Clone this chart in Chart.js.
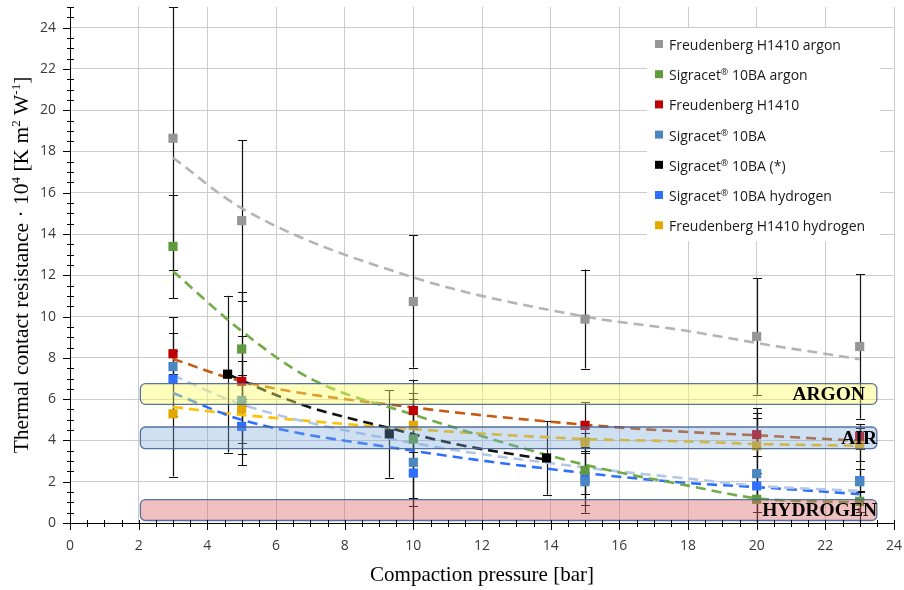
<!DOCTYPE html>
<html>
<head>
<meta charset="utf-8">
<script src="https://cdn.jsdelivr.net/npm/chart.js@4.4.1/dist/chart.umd.min.js"></script>
<style>
html, body { margin: 0; padding: 0; background: #fff; }
</style>
</head>
<body>
<canvas id="chart" width="904" height="590"></canvas>
<script>
// measured pressures [bar]
const pressure = [3, 5, 10, 15, 20, 23];
const starPressure = [4.59, 9.3, 13.88];

// thermal contact resistance * 10^4 and error (+/-)
const freudArgon = [18.64, 14.65, 10.73, 9.88, 9.04, 8.55];
const freudArgonErr = [6.36, 3.9, 3.2, 2.4, 2.83, 3.5];
const sigArgon = [13.4, 8.43, 4.07, 2.55, 1.15, 1.05];
const sigArgonErr = [2.5, 2.74, 2.87, 1.13, 0.6, 0.5];
const freudAir = [8.2, 6.86, 5.45, 4.73, 4.28, 4.2];
const freudAirErr = [1.0, 0.97, 0.84, 1.11, 1.05, 0.6];
const sigAir = [7.58, 5.94, 2.94, 2.0, 2.39, 2.0];
const sigAirErr = [2.4, 3.13, 3.06, 1.5, 3.18, 2.6];
const sigStar = [7.21, 4.32, 3.15];
const sigStarErr = [3.8, 2.12, 1.78];
const sigHydrogen = [6.97, 4.68, 2.42, 2.13, 1.8, 2.05];
const sigHydrogenErr = [null, 1.32, 1.58, 1.24, 0.6, 0.57];
const freudHydrogen = [5.29, 5.53, 4.73, 3.92, 3.74, 3.79];
const freudHydrogenErr = [3.04, 1.63, 1.3, 0.44, 1.34, 0.81];

// trend lines
const trendX = [3, 5, 10, 15, 18, 20, 23];
const freudArgonTrend = [17.7, 15.25, 11.9, 10.0, 9.3, 8.72, 7.94];
const freudAirTrend = [7.95, 6.86, 5.6, 4.76, 4.41, 4.25, 3.98];
const sigAirTrend = [7.15, 5.75, 3.87, 2.69, 2.15, 1.81, 1.55];
const sigHydrogenTrend = [6.3, 5.0, 3.5, 2.42, 1.94, 1.74, 1.4];
const freudHydrogenTrend = [5.62, 5.24, 4.55, 4.07, 3.95, 3.83, 3.74];
const sigArgonTrendX = [3, 5, 7, 10, 15, 18, 20, 23];
const sigArgonTrend = [12.2, 9.3, 7.0, 5.25, 2.82, 1.81, 1.2, 1.0];
const sigStarTrendX = [4.59, 6, 7, 9.3, 11.3, 13.88];
const sigStarTrend = [7.21, 6.2, 5.6, 4.6, 3.8, 3.07];

// gas bands
const bandNames = ['ARGON', 'AIR', 'HYDROGEN'];
const bandLow = [5.75, 3.6, 0.12];
const bandHigh = [6.75, 4.65, 1.13];
const bandFrom = 2.05;
const bandTo = 23.5;

const xTicks = [0, 2, 4, 6, 8, 10, 12, 14, 16, 18, 20, 22, 24];
const yTicks = [0, 2, 4, 6, 8, 10, 12, 14, 16, 18, 20, 22, 24];

function pts(xs, ys) {
    return xs.map((x, i) => ({x: x, y: ys[i]}));
}

function markers(label, xs, ys, errs, color) {
    return {
        label: label,
        data: pts(xs, ys),
        errors: errs,
        legend: true,
        backgroundColor: color,
        borderColor: color,
        borderWidth: 0,
        pointStyle: 'rect',
        pointRadius: 6.5,
        pointHoverRadius: 6.5,
        showLine: false,
        order: 0
    };
}

function trend(xs, ys, color) {
    return {
        data: pts(xs, ys),
        borderColor: color,
        backgroundColor: color,
        borderWidth: 2.6,
        borderDash: [10, 6],
        pointRadius: 0,
        pointHoverRadius: 0,
        showLine: true,
        cubicInterpolationMode: 'monotone',
        order: 1
    };
}

// text with superscripts
function richParts(str) {
    const out = [];
    str.split('®').forEach((s, i, arr) => {
        out.push({t: s});
        if (i < arr.length - 1) out.push({t: '®', sup: true});
    });
    return out;
}
function richWidth(ctx, parts, font, supFont) {
    let w = 0;
    parts.forEach(p => { ctx.font = p.sup ? supFont : font; w += ctx.measureText(p.t).width; });
    return w;
}
function drawRich(ctx, parts, x, y, font, supFont, rise) {
    ctx.textBaseline = 'alphabetic';
    ctx.textAlign = 'left';
    parts.forEach(p => {
        ctx.font = p.sup ? supFont : font;
        ctx.fillText(p.t, x, p.sup ? y - rise : y);
        x += ctx.measureText(p.t).width;
    });
}

const errorBars = {
    id: 'errorBars',
    beforeDatasetsDraw(chart) {
        const ctx = chart.ctx, ys = chart.scales.y, area = chart.chartArea;
        ctx.save();
        ctx.strokeStyle = '#111';
        ctx.lineWidth = 1.2;
        chart.data.datasets.forEach((ds, i) => {
            if (!ds.errors) return;
            chart.getDatasetMeta(i).data.forEach((pt, j) => {
                const e = ds.errors[j];
                if (e == null) return;
                const v = ds.data[j].y;
                const x = Math.round(pt.x) + 0.5;
                const top = Math.max(ys.getPixelForValue(v + e), area.top);
                const bot = Math.min(ys.getPixelForValue(v - e), area.bottom);
                ctx.beginPath();
                ctx.moveTo(x, top);
                ctx.lineTo(x, bot);
                if (v + e <= ys.max) { ctx.moveTo(x - 4.5, Math.round(top) + 0.5); ctx.lineTo(x + 4.5, Math.round(top) + 0.5); }
                if (v - e >= 0) { ctx.moveTo(x - 4.5, Math.round(bot) + 0.5); ctx.lineTo(x + 4.5, Math.round(bot) + 0.5); }
                ctx.stroke();
            });
        });
        ctx.restore();
    }
};

const gasBands = {
    id: 'gasBands',
    afterDatasetsDraw(chart) {
        const ctx = chart.ctx, xs = chart.scales.x, ys = chart.scales.y;
        const fills = ['rgba(255,255,97,0.42)', 'rgba(121,166,220,0.35)', 'rgba(218,98,98,0.4)'];
        const textRight = [865, 877, 877];
        ctx.save();
        bandNames.forEach((name, i) => {
            const l = xs.getPixelForValue(bandFrom), r = xs.getPixelForValue(bandTo);
            const t = ys.getPixelForValue(bandHigh[i]), b = ys.getPixelForValue(bandLow[i]);
            ctx.beginPath();
            ctx.roundRect(l, t, r - l, b - t, 5);
            ctx.fillStyle = fills[i];
            ctx.fill();
            ctx.strokeStyle = 'rgba(70,100,150,0.9)';
            ctx.lineWidth = 1.3;
            ctx.stroke();
            ctx.fillStyle = '#000';
            ctx.font = 'bold 19.5px "Liberation Serif"';
            ctx.textAlign = 'right';
            ctx.textBaseline = 'middle';
            ctx.fillText(name, textRight[i], (t + b) / 2 + 1);
        });
        ctx.restore();
    }
};

const axisDecor = {
    id: 'axisDecor',
    afterDraw(chart) {
        const ctx = chart.ctx, xs = chart.scales.x, ys = chart.scales.y, area = chart.chartArea;
        ctx.save();
        ctx.strokeStyle = '#000';
        ctx.lineWidth = 1;
        ctx.beginPath();
        for (let v = 0; v <= 25; v += 0.5) {
            const p = Math.round(ys.getPixelForValue(v)) + 0.5;
            if (yTicks.includes(v)) { ctx.moveTo(area.left - 7, p); ctx.lineTo(area.left + 1, p); }
            else { ctx.moveTo(area.left - 3, p); ctx.lineTo(area.left + 4, p); }
        }
        for (let v = 0; v <= 24; v += 0.5) {
            const p = Math.round(xs.getPixelForValue(v)) + 0.5;
            if (xTicks.includes(v)) { ctx.moveTo(p, area.bottom - 3); ctx.lineTo(p, area.bottom + 7); }
            else { ctx.moveTo(p, area.bottom - 3); ctx.lineTo(p, area.bottom + 4); }
        }
        ctx.stroke();

        // legend
        ctx.fillStyle = '#fff';
        ctx.fillRect(647, 28, 233, 213);
        chart.data.datasets.filter(d => d.legend).forEach((d, i) => {
            const cy = 45 + i * 30.2;
            ctx.fillStyle = d.backgroundColor;
            ctx.fillRect(655, cy - 5, 8, 8);
            ctx.fillStyle = '#1a1a1a';
            drawRich(ctx, richParts(d.label), 669, cy + 5, '14px "Open Sans"', '9px "Open Sans"', 5);
        });

        // axis titles
        ctx.fillStyle = '#000';
        ctx.font = '21px "Liberation Serif"';
        ctx.textAlign = 'center';
        ctx.textBaseline = 'middle';
        ctx.fillText('Compaction pressure [bar]', (area.left + area.right) / 2, 575);

        const yParts = [
            {t: 'Thermal contact resistance · 10'}, {t: '4', sup: true},
            {t: ' [K m'}, {t: '2', sup: true}, {t: ' W'}, {t: '-1', sup: true}, {t: ']'}
        ];
        const f = '21.5px "Liberation Serif"', sf = '13px "Liberation Serif"';
        const w = richWidth(ctx, yParts, f, sf);
        ctx.translate(28, (area.top + area.bottom) / 2);
        ctx.rotate(-Math.PI / 2);
        drawRich(ctx, yParts, -w / 2, 0, f, sf, 8);
        ctx.restore();
    }
};

function noPad(s) {
    s.paddingTop = 0;
    s.paddingBottom = 0;
    s.paddingLeft = 0;
    s.paddingRight = 0;
}

const tickFont = {family: 'Open Sans', size: 14};

new Chart(document.getElementById('chart').getContext('2d'), {
    type: 'scatter',
    data: {
        datasets: [
            markers('Freudenberg H1410 argon', pressure, freudArgon, freudArgonErr, '#969696'),
            markers('Sigracet® 10BA argon', pressure, sigArgon, sigArgonErr, '#5f9b3c'),
            markers('Freudenberg H1410', pressure, freudAir, freudAirErr, '#c00000'),
            markers('Sigracet® 10BA', pressure, sigAir, sigAirErr, '#4a86c0'),
            markers('Sigracet® 10BA (*)', starPressure, sigStar, sigStarErr, '#000000'),
            markers('Sigracet® 10BA hydrogen', pressure, sigHydrogen, sigHydrogenErr, '#2f6fff'),
            markers('Freudenberg H1410 hydrogen', pressure, freudHydrogen, freudHydrogenErr, '#e3a800'),
            trend(trendX, freudArgonTrend, '#b4b4b4'),
            trend(sigArgonTrendX, sigArgonTrend, '#70ad47'),
            trend(trendX, freudAirTrend, '#c55a11'),
            trend(trendX, sigAirTrend, '#b4c7e7'),
            trend(sigStarTrendX, sigStarTrend, '#111111'),
            trend(trendX, sigHydrogenTrend, '#2f6fff'),
            trend(trendX, freudHydrogenTrend, '#ffc000')
        ]
    },
    options: {
        responsive: false,
        animation: false,
        layout: {padding: {top: 7, right: 10, left: 0, bottom: 0}},
        plugins: {legend: {display: false}, tooltip: {enabled: false}},
        scales: {
            x: {
                type: 'linear', min: 0, max: 24,
                afterBuildTicks: s => { s.ticks = xTicks.map(v => ({value: v})); },
                afterFit: s => { s.height = 67; noPad(s); },
                ticks: {color: '#3a3a3a', font: tickFont, padding: 15},
                grid: {color: '#cccccc', drawTicks: false},
                border: {color: '#000'}
            },
            y: {
                type: 'linear', min: 0, max: 25,
                afterBuildTicks: s => { s.ticks = yTicks.map(v => ({value: v})); },
                afterFit: s => { s.width = 70; noPad(s); },
                ticks: {color: '#3a3a3a', font: tickFont, padding: 14},
                grid: {color: '#cccccc', drawTicks: false},
                border: {color: '#000'}
            }
        }
    },
    plugins: [errorBars, gasBands, axisDecor]
});
</script>
</body>
</html>
